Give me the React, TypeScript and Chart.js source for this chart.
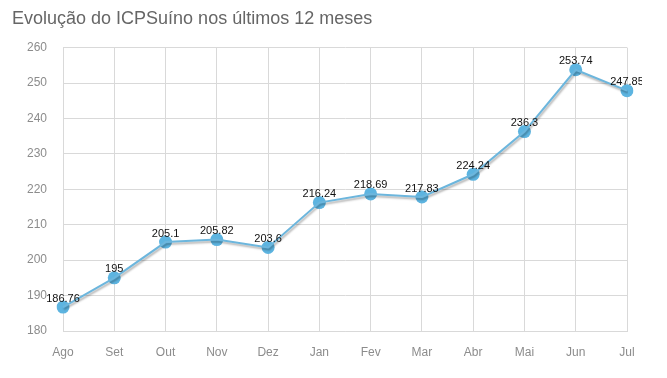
import React, { useEffect, useRef } from "react";
import { Chart, registerables } from "chart.js";

Chart.register(...registerables);

const categories = ["Ago", "Set", "Out", "Nov", "Dez", "Jan", "Fev", "Mar", "Abr", "Mai", "Jun", "Jul"];
const values = [186.76, 195, 205.1, 205.82, 203.6, 216.24, 218.69, 217.83, 224.24, 236.3, 253.74, 247.85];
const yTicks = [180, 190, 200, 210, 220, 230, 240, 250, 260];
const titleText = "Evolução do ICPSuíno nos últimos 12 meses";

const shadowPlugin = {
  id: "lineShadow",
  beforeDatasetDraw(chart: any, args: any) {
    const ctx = chart.ctx;
    ctx.save();
    if (args.index === 0) {
      ctx.shadowColor = "rgba(0,0,0,0.3)";
      ctx.shadowBlur = 2;
      ctx.shadowOffsetX = 1;
      ctx.shadowOffsetY = 2;
    }
  },
  afterDatasetDraw(chart: any) {
    chart.ctx.restore();
  },
};

const labelPlugin = {
  id: "valueLabels",
  afterDatasetsDraw(chart: any) {
    const ctx = chart.ctx;
    const meta = chart.getDatasetMeta(1);
    ctx.save();
    ctx.font = "11px 'Liberation Sans', Arial, sans-serif";
    ctx.fillStyle = "#111";
    ctx.textAlign = "center";
    ctx.textBaseline = "bottom";
    meta.data.forEach((pt: any, i: number) => {
      ctx.fillText(String(values[i]), pt.x, pt.y - 3);
    });
    ctx.restore();
  },
};

export default function App() {
  const ref = useRef<HTMLCanvasElement>(null);
  useEffect(() => {
    if (!ref.current) return;
    const chart = new Chart(ref.current, {
      type: "line",
      data: {
        labels: categories,
        datasets: [
          {
            data: values,
            borderColor: "#6cb6dd",
            borderWidth: 2,
            pointRadius: 0,
            tension: 0,
            fill: false,
          },
          {
            data: values,
            showLine: false,
            backgroundColor: "#5db4e0",
            borderColor: "#5db4e0",
            pointBackgroundColor: "#5db4e0",
            pointBorderColor: "#5db4e0",
            pointBorderWidth: 0,
            pointRadius: 6.5,
            fill: false,
          },
        ],
      },
      options: {
        animation: false,
        responsive: false,
        layout: { padding: { left: 0, right: 15, top: 0, bottom: 0 } },
        plugins: {
          legend: { display: false },
          tooltip: { enabled: false },
          title: {
            display: true,
            text: titleText,
            align: "start",
            color: "#666",
            font: { family: "'Liberation Sans', Arial, sans-serif", size: 18, weight: "normal" },
            padding: { top: 0, bottom: 18 },
          },
        },
        scales: {
          x: {
            grid: { color: "#d9d9d9", drawTicks: false },
            border: { color: "#d9d9d9" },
            ticks: {
              color: "#8c8c8c",
              padding: 14,
              maxRotation: 0,
              font: { family: "'Liberation Sans', Arial, sans-serif", size: 12 },
            },
            afterFit: (s: any) => {
              s.height = 39;
              s.paddingRight = 0;
              s.paddingLeft = 0;
            },
          },
          y: {
            min: 180,
            max: 260,
            afterBuildTicks: (s: any) => {
              s.ticks = yTicks.map((v) => ({ value: v }));
            },
            grid: { color: "#d9d9d9", drawTicks: false },
            border: { color: "#d9d9d9" },
            ticks: {
              color: "#8c8c8c",
              padding: 16,
              font: { family: "'Liberation Sans', Arial, sans-serif", size: 12 },
            },
            afterFit: (s: any) => {
              s.width = 51;
            },
          },
        },
      },
      plugins: [shadowPlugin, labelPlugin],
    });
    return () => chart.destroy();
  }, []);
  return (
    <div style={{ width: 630, height: 362, marginLeft: 4 }}>
      <canvas ref={ref} width={630} height={362} style={{ display: "block" }} />
    </div>
  );
}
